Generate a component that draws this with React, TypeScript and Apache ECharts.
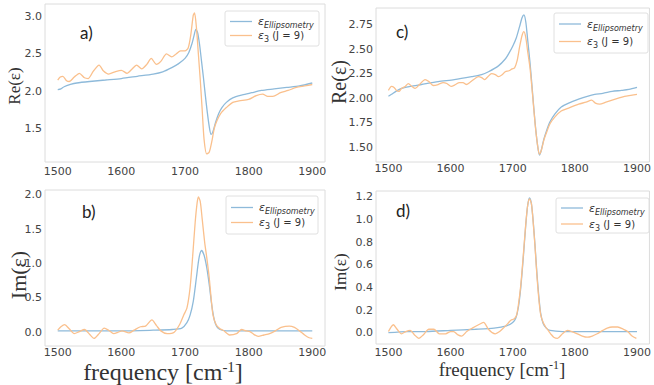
import React, { useEffect, useRef } from 'react';
import * as echarts from 'echarts';

// ---- Data (frequency in cm^-1) ----
const xTickValues = [1500, 1600, 1700, 1800, 1900];

// a) Re(eps): ellipsometry
const aEllF = [1500, 1505, 1510, 1520, 1530, 1550, 1575, 1600, 1625, 1650, 1665, 1680, 1690, 1700, 1706, 1711, 1714, 1717, 1720, 1723, 1726, 1729, 1732, 1735, 1738, 1741, 1744, 1748, 1753, 1758, 1765, 1775, 1790, 1805, 1820, 1840, 1860, 1880, 1900];
const aEllV = [2.02, 2.03, 2.06, 2.09, 2.11, 2.13, 2.15, 2.17, 2.2, 2.23, 2.26, 2.32, 2.37, 2.44, 2.52, 2.64, 2.74, 2.83, 2.78, 2.62, 2.4, 2.18, 1.94, 1.72, 1.53, 1.42, 1.46, 1.58, 1.7, 1.78, 1.85, 1.91, 1.95, 1.98, 2.01, 2.03, 2.05, 2.07, 2.11];
// a) Re(eps): eps3 (J = 9)
const aJ9F = [1500, 1504, 1508, 1514, 1518, 1526, 1534, 1542, 1548, 1556, 1565, 1572, 1580, 1590, 1600, 1609, 1616, 1624, 1632, 1640, 1647, 1655, 1662, 1671, 1679, 1686, 1693, 1700, 1705, 1709, 1713, 1715, 1718, 1721, 1724, 1727, 1730, 1734, 1738, 1742, 1746, 1750, 1756, 1765, 1775, 1785, 1800, 1812, 1822, 1830, 1838, 1850, 1862, 1875, 1888, 1900];
const aJ9V = [2.15, 2.19, 2.2, 2.14, 2.13, 2.19, 2.24, 2.18, 2.17, 2.27, 2.35, 2.27, 2.23, 2.26, 2.28, 2.24, 2.29, 2.35, 2.3, 2.36, 2.44, 2.36, 2.4, 2.5, 2.46, 2.5, 2.54, 2.54, 2.58, 2.75, 3.02, 3.05, 2.85, 2.5, 2.15, 1.75, 1.35, 1.16, 1.18, 1.32, 1.5, 1.6, 1.7, 1.78, 1.85, 1.87, 1.89, 1.94, 1.96, 1.93, 1.93, 1.98, 2.01, 2.05, 2.07, 2.09];

// b) Im(eps): ellipsometry
const bEllF = [1500, 1550, 1600, 1650, 1680, 1695, 1703, 1708, 1713, 1718, 1722, 1726, 1730, 1734, 1738, 1742, 1746, 1750, 1755, 1765, 1800, 1850, 1900];
const bEllV = [0.02, 0.02, 0.02, 0.03, 0.04, 0.06, 0.14, 0.25, 0.45, 0.8, 1.08, 1.19, 1.12, 0.95, 0.7, 0.4, 0.18, 0.08, 0.04, 0.02, 0.02, 0.02, 0.02];
// b) Im(eps): eps3 (J = 9)
const bJ9F = [1500, 1505, 1511, 1518, 1526, 1534, 1542, 1550, 1557, 1565, 1573, 1580, 1588, 1595, 1601, 1612, 1620, 1630, 1638, 1648, 1655, 1662, 1672, 1683, 1692, 1698, 1703, 1708, 1712, 1716, 1719, 1721, 1724, 1727, 1731, 1734, 1738, 1741, 1744, 1749, 1755, 1760, 1770, 1781, 1789, 1796, 1802, 1808, 1815, 1824, 1833, 1842, 1851, 1864, 1872, 1880, 1888, 1895, 1900];
const bJ9V = [0.03, 0.08, 0.11, 0.05, -0.02, 0.01, 0.04, -0.03, -0.09, -0.02, 0.06, 0.03, -0.02, 0.0, 0.02, -0.01, 0.03, 0.08, 0.09, 0.18, 0.1, 0.02, -0.02, 0.0, 0.12, 0.25, 0.35, 0.65, 1.1, 1.6, 1.88, 1.97, 1.9, 1.65, 1.3, 1.1, 0.8, 0.5, 0.25, 0.11, 0.05, 0.03, -0.04, -0.02, 0.04, 0.02, 0.01, -0.03, -0.06, -0.04, -0.02, 0.02, 0.07, 0.09, 0.07, 0.02, -0.04, -0.08, -0.09];

// c) Re(eps): ellipsometry
const cEllF = [1500, 1505, 1512, 1521, 1535, 1553, 1580, 1606, 1634, 1650, 1661, 1677, 1688, 1694, 1700, 1706, 1711, 1715, 1718, 1721, 1724, 1728, 1732, 1736, 1740, 1743, 1746, 1750, 1755, 1760, 1768, 1778, 1790, 1806, 1820, 1832, 1845, 1860, 1875, 1887, 1900];
const cEllV = [2.02, 2.04, 2.07, 2.1, 2.12, 2.14, 2.17, 2.19, 2.22, 2.24, 2.27, 2.33, 2.4, 2.46, 2.53, 2.62, 2.73, 2.82, 2.85, 2.78, 2.6, 2.35, 2.05, 1.75, 1.52, 1.42, 1.47, 1.58, 1.68, 1.76, 1.84, 1.91, 1.95, 1.99, 2.02, 2.04, 2.05, 2.07, 2.08, 2.09, 2.11];
// c) Re(eps): eps3 (J = 9)
const cJ9F = [1500, 1505, 1509, 1513, 1517, 1521, 1527, 1532, 1538, 1543, 1550, 1559, 1565, 1572, 1580, 1588, 1594, 1601, 1608, 1614, 1620, 1625, 1633, 1645, 1650, 1655, 1660, 1666, 1672, 1677, 1683, 1688, 1694, 1699, 1703, 1707, 1711, 1715, 1718, 1721, 1724, 1728, 1732, 1736, 1740, 1743, 1746, 1750, 1755, 1760, 1768, 1778, 1790, 1806, 1818, 1827, 1833, 1840, 1850, 1860, 1870, 1880, 1890, 1900];
const cJ9V = [2.08, 2.12, 2.11, 2.08, 2.07, 2.1, 2.12, 2.15, 2.12, 2.1, 2.14, 2.19, 2.17, 2.13, 2.14, 2.16, 2.15, 2.12, 2.14, 2.16, 2.16, 2.14, 2.17, 2.22, 2.21, 2.19, 2.22, 2.25, 2.24, 2.22, 2.24, 2.27, 2.28, 2.3, 2.31, 2.38, 2.52, 2.64, 2.68, 2.62, 2.48, 2.3, 2.03, 1.74, 1.52, 1.43, 1.47, 1.57, 1.66, 1.74, 1.81, 1.87, 1.9, 1.94, 1.96, 1.98, 1.95, 1.94, 1.96, 1.98, 2.0, 2.02, 2.03, 2.04];

// d) Im(eps): ellipsometry
const dEllF = [1500, 1530, 1560, 1600, 1640, 1670, 1690, 1700, 1705, 1709, 1713, 1717, 1721, 1724, 1727, 1730, 1733, 1736, 1739, 1742, 1745, 1749, 1754, 1760, 1780, 1820, 1860, 1900];
const dEllV = [0.0, 0.01, 0.01, 0.02, 0.03, 0.04, 0.06, 0.09, 0.13, 0.22, 0.4, 0.66, 0.95, 1.12, 1.19, 1.14, 0.98, 0.76, 0.52, 0.32, 0.17, 0.08, 0.04, 0.02, 0.01, 0.01, 0.01, 0.01];
// d) Im(eps): eps3 (J = 9)
const dJ9F = [1500, 1508, 1514, 1521, 1528, 1535, 1542, 1549, 1556, 1565, 1573, 1582, 1592, 1600, 1605, 1612, 1618, 1626, 1635, 1645, 1653, 1661, 1667, 1672, 1679, 1685, 1692, 1697, 1702, 1706, 1709, 1713, 1717, 1721, 1724, 1727, 1730, 1733, 1736, 1739, 1742, 1745, 1749, 1753, 1757, 1761, 1766, 1772, 1780, 1788, 1795, 1804, 1812, 1820, 1828, 1836, 1845, 1852, 1860, 1869, 1878, 1885, 1892, 1899];
const dJ9V = [0.01, 0.07, 0.03, -0.01, 0.01, 0.02, -0.02, -0.05, -0.02, 0.03, 0.03, -0.01, -0.01, 0.01, 0.01, -0.02, -0.03, 0.01, 0.04, 0.07, 0.09, 0.03, 0.0, -0.01, 0.01, 0.04, 0.08, 0.11, 0.12, 0.15, 0.24, 0.42, 0.68, 0.96, 1.12, 1.18, 1.14, 0.97, 0.75, 0.5, 0.3, 0.16, 0.09, 0.05, 0.02, -0.01, -0.04, -0.05, -0.01, 0.02, 0.01, -0.01, -0.03, -0.04, -0.03, -0.01, 0.02, 0.04, 0.05, 0.05, 0.03, 0.01, -0.03, -0.05];

const panelLabels = ['a)', 'b)', 'c)', 'd)'];
const legendNames = ['ε_Ellipsometry', 'ε3 (J = 9)'];

const BLUE = '#8ebada';
const ORANGE = '#fac08d';
const TICK_COLOR = '#444444';
const FRAME = '#dcdcdc';

function pairs(f: number[], v: number[]) {
  return f.map((x, i) => [x, v[i]]);
}

function isMultiple(v: number, step: number) {
  const k = v / step;
  return Math.abs(k - Math.round(k)) < 1e-6;
}

function legendGroup(x0: number, y0: number, w: number, h: number, r1: number, r2: number) {
  const lx0 = x0 + 5;
  const lx1 = x0 + 27;
  const tx = x0 + 33;
  const rich = {
    e: { fontFamily: 'DejaVu Sans', fontStyle: 'italic', fontSize: 11, lineHeight: 16, fill: '#333' },
    s: { fontFamily: 'DejaVu Sans', fontStyle: 'italic', fontSize: 8, verticalAlign: 'bottom', fill: '#333' },
    d: { fontFamily: 'DejaVu Sans', fontSize: 8, verticalAlign: 'bottom', fill: '#333' },
    n: { fontFamily: 'DejaVu Sans', fontSize: 10, lineHeight: 16, fill: '#333' },
  };
  return {
    type: 'group',
    children: [
      {
        type: 'rect',
        shape: { x: x0, y: y0, width: w, height: h, r: 2 },
        style: { fill: 'rgba(255,255,255,0.85)', stroke: '#e0e0e0', lineWidth: 1 },
      },
      { type: 'line', shape: { x1: lx0, y1: r1, x2: lx1, y2: r1 }, style: { stroke: BLUE, lineWidth: 1.3 } },
      { type: 'line', shape: { x1: lx0, y1: r2, x2: lx1, y2: r2 }, style: { stroke: ORANGE, lineWidth: 1.3 } },
      {
        type: 'text',
        x: tx,
        y: r1,
        style: { text: '{e|ε}{s|' + legendNames[0].split('_')[1] + '}', rich, verticalAlign: 'middle', align: 'left' },
      },
      {
        type: 'text',
        x: tx,
        y: r2,
        style: { text: '{e|ε}{d|3}{n| (J = 9)}', rich, verticalAlign: 'middle', align: 'left' },
      },
    ],
  };
}

function panelText(text: string, x: number, y: number) {
  return {
    type: 'text',
    x,
    y,
    style: { text, fontFamily: 'Lato, "Open Sans", sans-serif', fontSize: 17, fill: '#222', align: 'left', verticalAlign: 'middle' },
  };
}

function yName(text: string, x: number, y: number, size: number) {
  return {
    type: 'text',
    x,
    y,
    rotation: Math.PI / 2,
    style: { text, fontFamily: '"Liberation Serif", serif', fontSize: size, fill: '#333', align: 'center', verticalAlign: 'middle' },
  };
}

function xName(x: number, y: number, size: number) {
  const sup = Math.round(size * 0.62);
  return {
    type: 'text',
    x,
    y,
    style: {
      text: '{m|frequency [cm}{s|-1}{m|]}',
      align: 'center',
      verticalAlign: 'middle',
      rich: {
        m: { fontFamily: '"Liberation Serif", serif', fontSize: size, lineHeight: size + 2, fill: '#333' },
        s: { fontFamily: '"Liberation Serif", serif', fontSize: sup, verticalAlign: 'top', fill: '#333' },
      },
    },
  };
}

export default function App() {
  const ref = useRef<HTMLDivElement>(null);

  useEffect(() => {
    if (!ref.current) return;
    const chart = echarts.init(ref.current, undefined, { renderer: 'svg' });

    const grids = [
      { left: 45, top: 4, width: 280, height: 158 },
      { left: 45, top: 190, width: 280, height: 156 },
      { left: 376, top: 8, width: 276, height: 154 },
      { left: 376, top: 191, width: 276, height: 153 },
    ];
    const yCfg = [
      { min: 1.05, max: 3.17, step: 0.5, dec: 1 },
      { min: -0.2, max: 2.07, step: 0.5, dec: 1 },
      { min: 1.35, max: 2.92, step: 0.25, dec: 2 },
      { min: -0.1, max: 1.25, step: 0.2, dec: 1 },
    ];
    const xMargins = [4, 1, 1, 3];

    const seriesData = [
      [pairs(aEllF, aEllV), pairs(aJ9F, aJ9V)],
      [pairs(bEllF, bEllV), pairs(bJ9F, bJ9V)],
      [pairs(cEllF, cEllV), pairs(cJ9F, cJ9V)],
      [pairs(dEllF, dEllV), pairs(dJ9F, dJ9V)],
    ];

    const series: any[] = [];
    seriesData.forEach((pair, gi) => {
      pair.forEach((data, si) => {
        series.push({
          type: 'line',
          name: legendNames[si],
          xAxisIndex: gi,
          yAxisIndex: gi,
          data,
          showSymbol: false,
          smooth: 0.25,
          lineStyle: { color: si === 0 ? BLUE : ORANGE, width: 1.3 },
          itemStyle: { color: si === 0 ? BLUE : ORANGE },
          z: 2 + si,
        });
      });
    });

    const option: any = {
      animation: false,
      backgroundColor: '#ffffff',
      grid: grids.map((g) => ({ ...g, show: true, borderColor: FRAME, borderWidth: 1, containLabel: false })),
      xAxis: grids.map((_, i) => ({
        type: 'value',
        gridIndex: i,
        min: 1480,
        max: 1920,
        interval: 20,
        axisLine: { show: false },
        axisTick: { show: false },
        splitLine: { show: false },
        axisLabel: {
          color: TICK_COLOR,
          fontFamily: 'DejaVu Sans',
          fontSize: 11,
          margin: xMargins[i],
          formatter: (v: number) => (xTickValues.some((t) => Math.abs(t - v) < 1e-6) ? String(Math.round(v)) : ''),
        },
      })),
      yAxis: yCfg.map((c, i) => ({
        type: 'value',
        gridIndex: i,
        min: c.min,
        max: c.max,
        interval: 0.05,
        axisLine: { show: false },
        axisTick: { show: false },
        splitLine: { show: false },
        axisLabel: {
          color: TICK_COLOR,
          fontFamily: 'DejaVu Sans',
          fontSize: 11,
          margin: 3,
          formatter: (v: number) => (isMultiple(v, c.step) && v <= c.max && v >= c.min ? v.toFixed(c.dec) : ''),
        },
      })),
      series,
      graphic: [
        panelText(panelLabels[0], 80, 32),
        panelText(panelLabels[1], 82, 211),
        panelText(panelLabels[2], 396, 31),
        panelText(panelLabels[3], 396, 210),
        yName('Re(ε)', 14, 86, 17),
        yName('Im(ε)', 18, 275, 22),
        yName('Re(ε)', 339, 82, 20),
        yName('Im(ε)', 340, 272, 17),
        xName(163, 372, 24),
        xName(502, 369, 19),
        legendGroup(225, 11, 94, 35, 21.5, 35.5),
        legendGroup(226, 196, 92, 38, 207.5, 222.5),
        legendGroup(554, 13, 94, 40, 24, 41.5),
        legendGroup(556, 198, 93, 35, 208, 224),
      ],
    };

    chart.setOption(option);
    return () => chart.dispose();
  }, []);

  return (
    <div
      ref={ref}
      style={{ position: 'fixed', left: 0, top: 0, width: 654, height: 385, background: '#fff' }}
    />
  );
}
